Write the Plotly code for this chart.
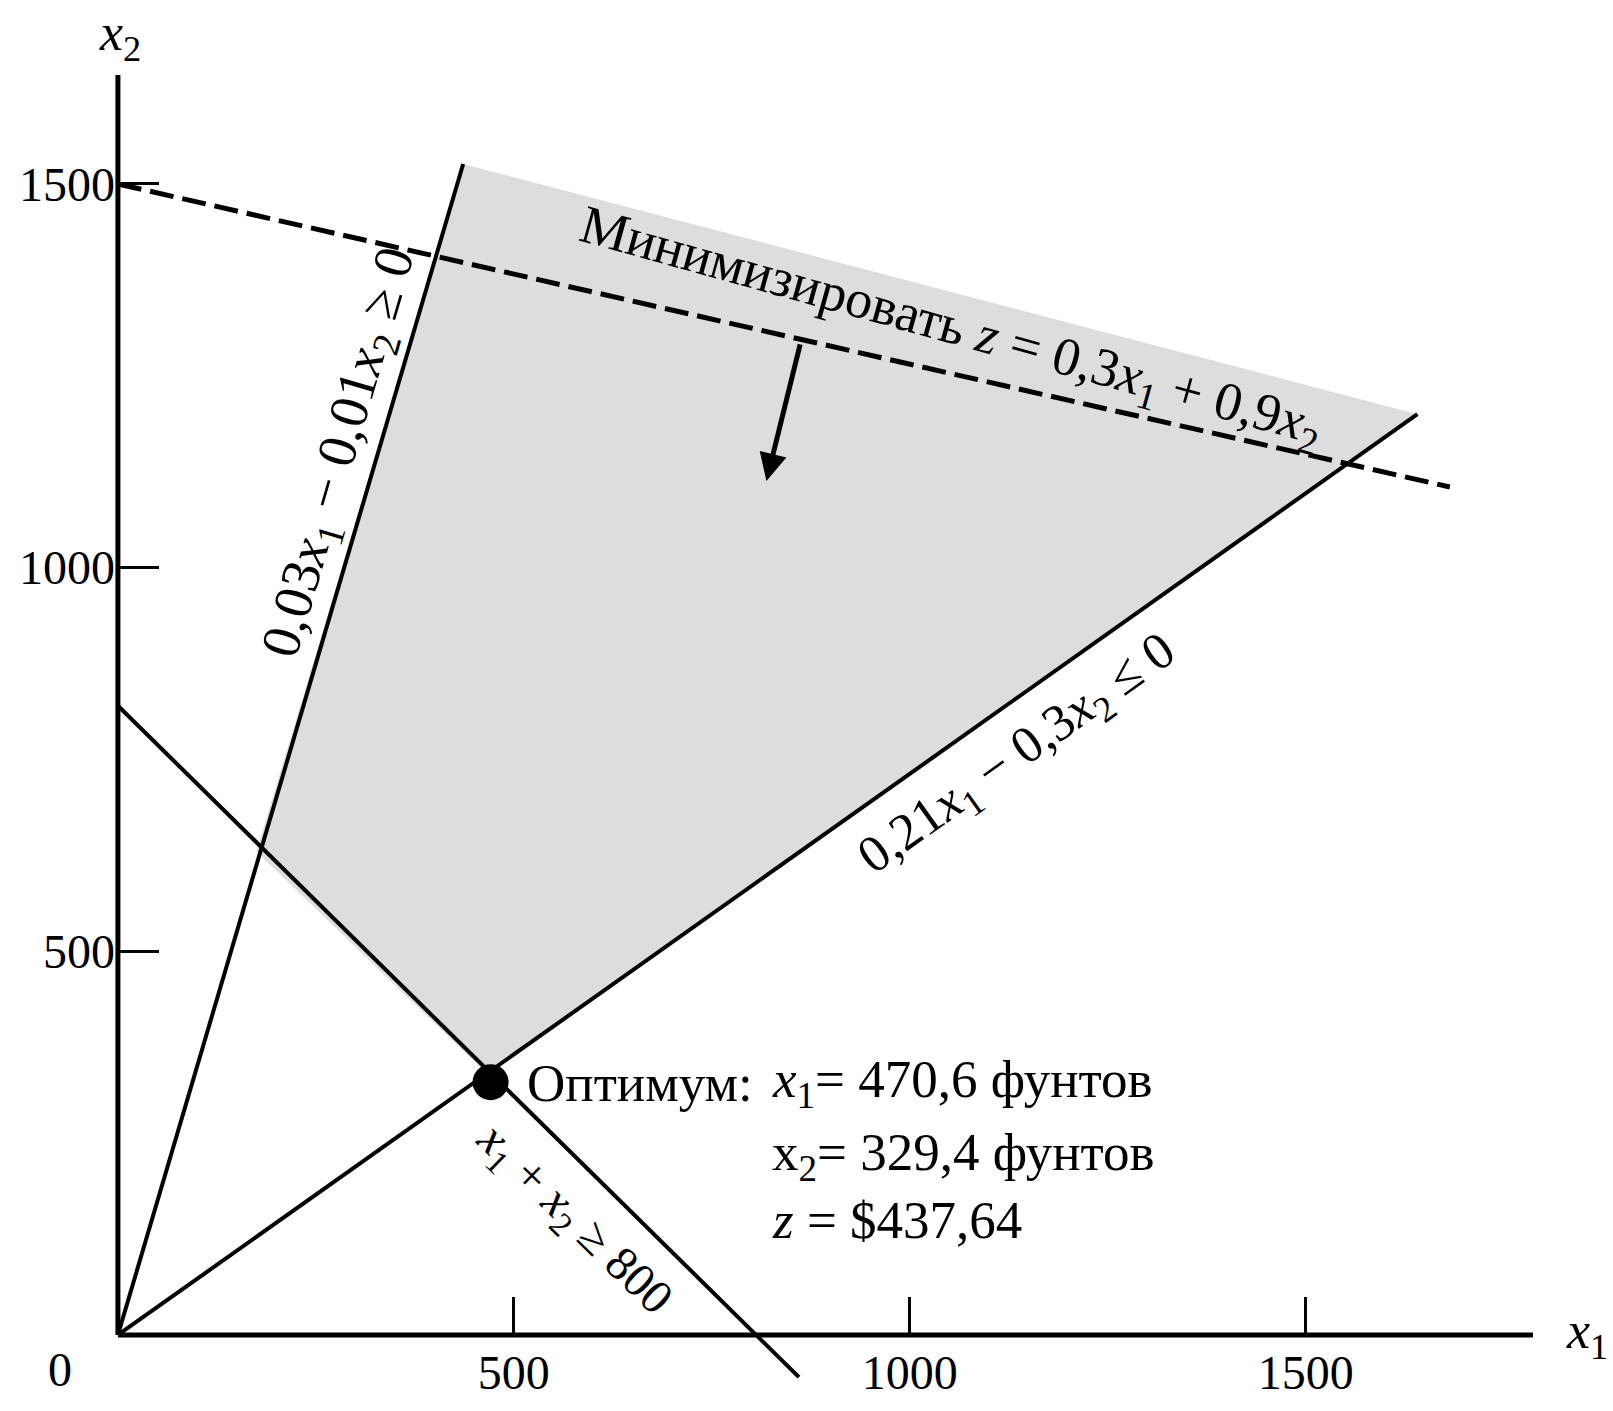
import plotly.graph_objects as go

FONT = "Liberation Serif"

# ---- axes -------------------------------------------------------------
x_ticks = [500, 1000, 1500]
y_ticks = [500, 1000, 1500]
x_range = [-10, 1787]
y_range = [-60, 1642]

# ---- constraint lines (endpoints) --------------------------------------
ratio_x = [0, 436]          # 0,03x1 - 0,01x2 = 0
ratio_y = [0, 1526]
protein_x = [0, 1641]       # 0,21x1 - 0,3x2 = 0
protein_y = [0, 1200]
total_x = [0, 860]          # x1 + x2 = 800
total_y = [820, -55]
objective_x = [0, 1682]     # z = 0,3x1 + 0,9x2 (iso-cost line)
objective_y = [1500, 1105]

# feasible region vertices
feasible_x = [175, 436, 1641, 466]
feasible_y = [630, 1526, 1200, 340]

# optimum
opt_x = [470.6]
opt_y = [329.4]

# direction-of-minimisation arrow (tail, head)
arrow_tail = [862, 1293]
arrow_head = [819, 1113]

fig = go.Figure()

fig.add_trace(go.Scatter(
    x=feasible_x + [feasible_x[0]], y=feasible_y + [feasible_y[0]],
    fill="toself", fillcolor="#dddddd", mode="none", hoverinfo="skip"))

for xs, ys in [(ratio_x, ratio_y), (protein_x, protein_y), (total_x, total_y)]:
    fig.add_trace(go.Scatter(x=xs, y=ys, mode="lines",
                             line=dict(color="black", width=4), hoverinfo="skip"))

fig.add_trace(go.Scatter(x=objective_x, y=objective_y, mode="lines",
                         line=dict(color="black", width=5, dash="24px,9px"),
                         hoverinfo="skip"))

fig.add_trace(go.Scatter(x=opt_x, y=opt_y, mode="markers",
                         marker=dict(color="black", size=36), hoverinfo="skip"))

pos_x_axis = (0 - y_range[0]) / (y_range[1] - y_range[0])
pos_y_axis = (0 - x_range[0]) / (x_range[1] - x_range[0])

tickfont = dict(family=FONT, size=48, color="black")
fig.update_xaxes(range=x_range, showgrid=False, zeroline=False, showline=False,
                 ticks="inside", ticklen=38, tickwidth=3, tickcolor="black",
                 tickvals=x_ticks, ticktext=[str(v) for v in x_ticks],
                 tickfont=tickfont, anchor="free", position=pos_x_axis,
                 ticklabelstandoff=5)
fig.update_yaxes(range=y_range, showgrid=False, zeroline=False, showline=False,
                 ticks="inside", ticklen=40, tickwidth=3, tickcolor="black",
                 tickvals=y_ticks, ticktext=[str(v) for v in y_ticks],
                 tickfont=tickfont, anchor="free", position=pos_y_axis,
                 ticklabelstandoff=3)

# axis lines
fig.add_shape(type="line", xref="x", yref="y", x0=0, y0=0, x1=x_range[1], y1=0,
              line=dict(color="black", width=5))
fig.add_shape(type="line", xref="x", yref="y", x0=0, y0=0, x1=0, y1=y_range[1],
              line=dict(color="black", width=5))


def px(x):
    return (x - x_range[0]) / (x_range[1] - x_range[0])


def py(y):
    return (y - y_range[0]) / (y_range[1] - y_range[0])


def txt(x, y, text, size=50, angle=0, xanchor="center", yanchor="middle",
        xref="x", yref="y"):
    fig.add_annotation(x=x, y=y, xref=xref, yref=yref, text=text, showarrow=False,
                       textangle=angle, xanchor=xanchor, yanchor=yanchor,
                       font=dict(family=FONT, size=size, color="black"))


# axis titles and origin (outside the plotting area -> paper coordinates)
txt(px(2), py(1692), "<i>x</i><sub>2</sub>", size=52, xref="paper", yref="paper")
txt(px(1855), py(0), "<i>x</i><sub>1</sub>", size=52, xref="paper", yref="paper")
txt(px(-73), py(-45), "0", size=48, xref="paper", yref="paper")

# constraint labels
txt(282, 1150, "0,03<i>x</i><sub>1</sub> − 0,01<i>x</i><sub>2</sub> ≥ 0", size=55, angle=-73.7)
txt(1137, 755, "0,21<i>x</i><sub>1</sub> − 0,3<i>x</i><sub>2</sub> ≤ 0", size=52, angle=-35.5)
txt(575, 150, "<i>x</i><sub>1</sub> + <i>x</i><sub>2</sub> ≥ 800", size=48, angle=44.3)
txt(1052, 1311, "Минимизировать <i>z</i> = 0,3<i>x</i><sub>1</sub> + 0,9<i>x</i><sub>2</sub>",
    size=54, angle=15.5)

# optimum text
txt(514, 328, "Оптимум:", size=53, xanchor="left")
txt(823, 328, "<i>x</i><sub>1</sub>= 470,6 фунтов", size=53, xanchor="left")
txt(823, 233, "x<sub>2</sub>= 329,4 фунтов", size=53, xanchor="left")
txt(823, 150, "<i>z</i> = $437,64", size=53, xanchor="left")

# arrow
fig.add_annotation(x=arrow_head[0], y=arrow_head[1], ax=arrow_tail[0], ay=arrow_tail[1],
                   xref="x", yref="y", axref="x", ayref="y", text="", showarrow=True,
                   arrowhead=2, arrowsize=1.1, arrowwidth=5, arrowcolor="black")

fig.update_layout(width=1613, height=1411, showlegend=False,
                  margin=dict(l=110, r=80, t=75, b=22),
                  paper_bgcolor="white", plot_bgcolor="white")

fig.write_html("out.html", config={"displayModeBar": False},
               post_script="document.body.style.margin='0';")
